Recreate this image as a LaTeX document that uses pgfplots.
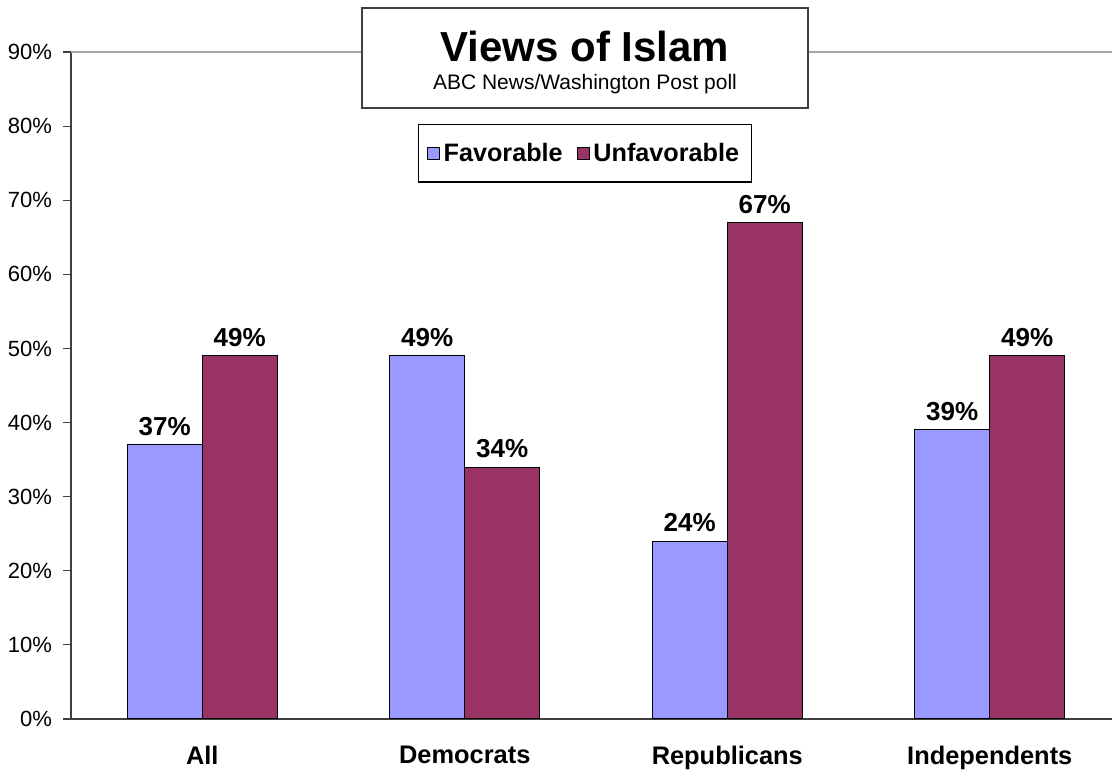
\documentclass[border=0pt]{standalone}
\usepackage{pgfplots}
\pgfplotsset{compat=1.18}
\usepackage{fontspec}
\setmainfont{Liberation Sans}
\definecolor{fav}{RGB}{153,153,255}
\definecolor{unfav}{RGB}{153,51,102}
\definecolor{axisgray}{RGB}{64,64,64}
\begin{document}
\begin{tikzpicture}
\path[use as bounding box] (0,0) rectangle (556pt,385pt);
\begin{axis}[
  at={(35.5pt,25.5pt)}, anchor=south west,
  scale only axis, width=525pt, height=333.5pt,
  xmin=-0.5, xmax=3.5, ymin=0, ymax=90,
  axis x line*=bottom, axis y line*=left,
  axis line style={-, draw=axisgray, line width=0.8pt},
  tick align=outside,
  major tick length=4pt, minor tick length=4pt,
  tick style={draw=axisgray, line width=0.6pt},
  xtick={0,1,2,3},
  xticklabels={All,Democrats,Republicans,Independents},
  xtick style={draw=none},
  minor xtick={-0.5,0.5,1.5,2.5,3.5},
  xticklabel style={font=\bfseries\fontsize{12.7}{14}\selectfont, yshift=-6pt},
  ytick={0,10,...,90},
  yticklabel={\pgfmathprintnumber{\tick}\%},
  yticklabel style={font=\fontsize{11}{12}\selectfont, xshift=-2pt},
  /pgf/number format/assume math mode=true,
  ybar, bar width=37.5pt,
  nodes near coords={\pgfmathprintnumber{\pgfplotspointmeta}\%},
  every node near coord/.append style={font=\bfseries\fontsize{13}{15}\selectfont, text=black, yshift=1pt},
  legend style={draw=black, line width=0.6pt, at={(0.4895,0.848)}, anchor=center,
    legend columns=2, font=\bfseries\fontsize{12.6}{14}\selectfont,
    inner xsep=4pt, inner ysep=7pt,
    /tikz/every odd column/.append style={column sep=0pt},
    /tikz/every even column/.append style={column sep=5pt}},
  legend image code/.code={\draw[#1, draw=black, line width=0.4pt] (0pt,-3pt) rectangle (6pt,3pt);},
  clip=false,
]
\draw[gray!70, line width=0.6pt] (axis cs:-0.5,90) -- (axis cs:3.5,90);
\addplot[fill=fav, draw=black, line width=0.5pt, bar shift=-18.75pt] coordinates {(0,37) (1,49) (2,24) (3,39)};
\addplot[fill=unfav, draw=black, line width=0.5pt, bar shift=18.75pt] coordinates {(0,49) (1,34) (2,67) (3,49)};
\legend{Favorable,Unfavorable}
\end{axis}
\node[draw=axisgray, line width=0.6pt, fill=white, minimum width=223pt, minimum height=50pt, inner sep=0pt] at (292.5pt,356pt) {};
\node[font=\bfseries\fontsize{21}{24}\selectfont] at (292.5pt,362pt) {Views of Islam};
\node[font=\fontsize{10.5}{12}\selectfont] at (292.5pt,343pt) {ABC News/Washington Post poll};
\end{tikzpicture}
\end{document}
